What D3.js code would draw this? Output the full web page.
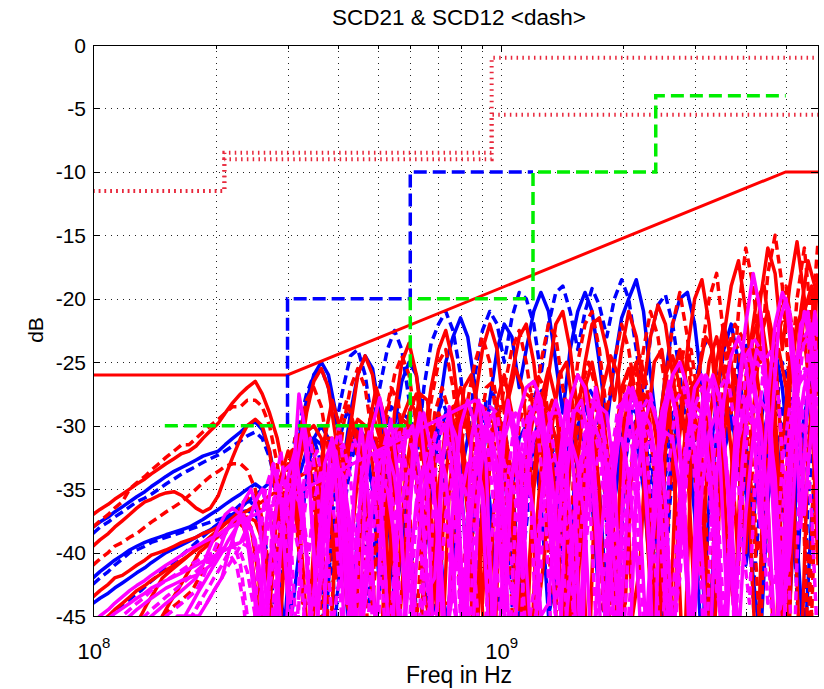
<!DOCTYPE html>
<html>
<head>
	<meta charset="utf-8">
	<title>SCD21 & SCD12</title>
	<style>
		body { margin: 0; background: #fff; }
		text { font-family: "Liberation Sans", Arial, Helvetica, sans-serif; fill: #000; }
	</style>
</head>
<body>
<script src="https://d3js.org/d3.v7.min.js"></script>
<script>
// sample frequencies (MHz)
var freqMHz = [100,104,109,113,118,123,128,134,139,145,
	151,158,165,172,179,186,194,203,211,220,
	230,239,250,260,271,283,295,307,320,334,
	348,363,378,394,411,428,446,465,485,505,
	527,549,572,596,621,648,675,704,733,764,
	797,830,865,902,940,980,1020,1065,1110,1155,
	1205,1255,1310,1365,1420,1480,1545,1610,1675,1745,
	1820,1900,1980,2060,2150,2240,2330,2430,2535,2640,
	2750,2870,2990,3115,3245,3385,3525,3675,3830,3990,
	4160,4335,4520,4710,4905,5115,5330,5555,5790,6000];
// second sweep, sampled in between
var freqMHzB = [102,106,111,115,120,125,131,136,142,148,
	154,161,168,175,182,190,198,207,215,225,
	234,244,255,265,277,289,301,313,327,341,
	355,370,386,402,419,437,455,475,495,516,
	538,560,584,608,634,661,689,718,748,780,
	813,847,883,921,960,1000,1042,1087,1132,1180,
	1230,1282,1337,1392,1450,1512,1577,1642,1710,1782,
	1860,1940,2020,2105,2195,2285,2380,2482,2587,2695,
	2810,2930,3052,3180,3315,3455,3600,3752,3910,4075,
	4247,4427,4615,4807,5010,5222,5442,5672,5895,6000];

// measured curves (dB), sweep A
var red1 = [-37,-36.6,-36.2,-35.8,-35.4,-35,-34.6,-34.2,-33.8,-33.4,
	-33,-32.6,-32.2,-32,-31.6,-31,-30.4,-29.8,-29,-28.2,
	-27.5,-27,-26.5,-27.5,-29,-31,-34,-38,-33,-29,
	-26.5,-25.5,-27,-31,-36,-30,-26,-24.5,-26,-30,
	-36,-29,-25,-23.5,-26,-31,-27,-24,-22.5,-25,
	-30,-35,-28,-24,-22,-24,-29,-26,-23,-22,
	-25,-30,-26,-22,-21,-24,-29,-25,-22,-21.5,
	-24,-28,-24,-21,-23,-27,-23,-20.5,-22,-26,
	-30,-24,-20,-18.5,-22,-28,-23,-19,-17,-21,
	-27,-20,-16,-18,-24,-19,-15.5,-20,-26,-18];
var red2 = [-38,-37.5,-37,-36.5,-36,-35,-34.5,-34,-33.5,-33,
	-32.5,-32,-31.5,-31.5,-31,-30.5,-30,-29.5,-29,-28.5,
	-28.5,-28,-28,-28.5,-30,-33,-37,-35,-31,-28,
	-27,-28.5,-32,-35,-30,-27,-25.5,-27,-31,-34,
	-29,-26,-24.5,-26,-30,-34,-28,-25,-24,-27,
	-32,-28,-25,-23,-25,-30,-27,-24,-22.5,-25,
	-29,-25,-22,-23,-27,-30,-25,-22,-21,-24,
	-29,-25,-22,-24,-28,-24,-21,-23,-27,-22,
	-19.5,-23,-29,-24,-20,-18,-23,-29,-21,-16,
	-19,-25,-18,-15,-19,-27,-20,-16,-22,-15.5];
var red3 = [-43.5,-43,-42.5,-42,-41.8,-41.4,-41,-40.6,-40.2,-40,
	-39.8,-39.5,-39.2,-39,-38.8,-38.5,-38.3,-38,-37.7,-37.4,
	-37,-36.7,-36.3,-36,-35.5,-35.2,-34.8,-34.5,-34,-33.7,
	-33.3,-33,-32.5,-33,-36,-40,-34,-31,-29,-31,
	-36,-42,-33,-29,-27.5,-30,-37,-45,-34,-29,
	-27,-29,-35,-44,-33,-28,-26,-29,-36,-48,
	-34,-28,-25.5,-28,-35,-46,-33,-27,-25,-28,
	-34,-44,-32,-27,-25,-29,-37,-50,-31,-26,
	-24,-27,-33,-42,-30,-25,-22,-25,-31,-40,
	-29,-23,-21,-24,-33,-45,-27,-21,-19,-26];
var red4 = [-39.5,-39,-38.5,-38,-37.5,-37,-36.5,-36,-35.8,-35.5,
	-35.3,-35.2,-35.5,-36,-36.5,-36.8,-36.5,-35.5,-34,-32.5,
	-31,-30,-29.5,-30,-32,-36,-42,-38,-33,-30.5,
	-30,-31,-35,-42,-35,-31,-29.5,-30,-33,-39,
	-45,-34,-29.5,-28,-29,-33,-41,-35,-30,-28.5,
	-30,-35,-47,-36,-31,-29,-31,-37,-50,-33,
	-29,-27.5,-30,-36,-45,-32,-28,-26.5,-29,-35,
	-48,-32,-27,-25.5,-28,-34,-43,-31,-26,-24.5,
	-27,-33,-44,-30,-25,-23,-26,-32,-41,-28,
	-23,-21,-25,-32,-47,-27,-22,-20.5,-24,-33];
var red5 = [-41,-40.5,-40,-39.5,-39.2,-38.8,-38.5,-38,-37.6,-37.2,
	-36.8,-36.4,-36,-35.5,-35,-34.5,-34,-33.6,-33.2,-33,
	-33,-33.5,-35,-38,-43,-40,-35,-32,-31,-32,
	-35,-41,-50,-38,-33,-31,-32,-36,-44,-37,
	-32,-30,-31.5,-36,-46,-36,-31,-29,-30.5,-35,
	-44,-37,-31,-28.5,-29,-33,-42,-37,-30,-27.5,
	-28,-32,-40,-45,-33,-28,-26,-27,-31,-38,
	-50,-34,-28,-25.5,-26,-30,-37,-46,-32,-27,
	-24.5,-25,-29,-36,-48,-31,-26,-23,-24,-29,
	-37,-47,-30,-24,-21.5,-22,-27,-36,-45,-29];
var red6 = [-46,-45.5,-45,-44.5,-44,-43.5,-43,-42.6,-42.2,-41.8,
	-41.4,-41,-40.6,-40.2,-39.8,-39.4,-39,-38.6,-38.2,-37.8,
	-37.5,-37.2,-37.5,-39,-43,-50,-40,-34,-31,-30,
	-32,-37,-50,-39,-33,-30,-30.5,-34,-42,-50,
	-37,-32,-29.5,-30,-34,-43,-46,-35,-31,-29.5,
	-31,-37,-50,-38,-32,-29.5,-30,-34,-44,-45,
	-35,-30.5,-29,-31,-37,-50,-38,-31,-28.5,-29,
	-33,-42,-50,-36,-30,-27.5,-28,-32,-41,-48,
	-35,-29,-26.5,-27,-31,-39,-50,-34,-27,-24,
	-24,-28,-36,-50,-32,-25,-22,-23,-29,-41];

var blue1 = [-38,-37.6,-37.2,-36.8,-36.4,-36,-35.6,-35.2,-34.8,-34.4,
	-34,-33.6,-33.3,-33,-32.7,-32.4,-32.2,-32,-31.5,-31,
	-30.5,-30,-29.7,-30.3,-32,-35,-40,-36,-31,-28,
	-26,-25,-26,-29,-33,-29,-26,-24.5,-25.5,-29,
	-35,-30,-26.5,-25,-26,-30,-36,-29,-25,-23,
	-21.5,-23,-27,-33,-28,-24,-22,-23,-27,-24,
	-21,-19.5,-21,-25,-29,-24,-21,-19.5,-21,-25,
	-30,-25,-21.5,-20,-18.5,-21,-26,-31,-26,-22,
	-20,-19.5,-22,-27,-33,-28,-24,-22,-25,-31,
	-38,-30,-26,-24,-27,-33,-42,-31,-26,-24];
var blue2 = [-38.5,-38,-37.6,-37.2,-36.8,-36.4,-36,-35.7,-35.4,-35,
	-34.6,-34.2,-33.8,-33.5,-33.2,-32.9,-32.6,-32.3,-32,-31.6,
	-31.2,-30.8,-30.5,-31,-32.5,-35,-38,-34,-30,-27.5,
	-26,-25.5,-27,-30,-27,-24.5,-24,-26,-30,-27,
	-24,-22.5,-24,-28,-33,-27,-23.5,-22,-21,-22.5,
	-26,-31,-26,-22.5,-21,-22,-25,-21.5,-19.5,-20,
	-22,-26,-22,-19.5,-19,-21,-24,-21,-19.2,-20.5,
	-23,-20,-18.5,-20,-24,-28,-23,-20.5,-19.7,-22,
	-26,-31,-27,-24,-23,-26,-32,-29,-25,-23.5,
	-26,-31,-36,-29,-25,-27,-33,-29,-26,-28];
var blue3 = [-42,-41.5,-41,-40.6,-40.2,-39.8,-39.5,-39.2,-39,-38.8,
	-38.6,-38.4,-38.2,-38,-37.7,-37.4,-37,-36.6,-36.2,-35.8,
	-35.4,-35,-34.6,-35,-37,-41,-46,-38,-34,-32,
	-31,-31.5,-34,-39,-36,-32,-30,-31,-35,-43,
	-38,-32,-29.5,-30,-34,-41,-35,-31,-29,-30,
	-34,-42,-36,-31,-28.5,-29,-33,-40,-47,-35,
	-31,-29,-30,-34,-40,-33,-30,-28.5,-30,-35,
	-44,-36,-31,-28.5,-29,-33,-41,-38,-32,-29,
	-28.5,-31,-37,-48,-36,-31,-28,-29,-33,-41,
	-37,-32,-29,-30,-35,-44,-34,-29,-27,-30];
var blue4 = [-42.5,-42,-41.5,-41,-40.5,-40,-39.8,-39.5,-39.2,-39,
	-38.8,-38.6,-38.4,-38.2,-38,-37.8,-37.6,-37.4,-37.2,-37,
	-36.8,-36.7,-37,-38,-41,-46,-40,-35,-32.5,-31,
	-31,-33,-37,-45,-37,-33,-31,-32,-35,-40,
	-35,-31,-29,-29.5,-32,-38,-50,-37,-32,-30,
	-31,-35,-43,-36,-31,-29,-30,-34,-42,-38,
	-32,-29.5,-29,-31,-36,-47,-37,-32,-30,-31,
	-35,-43,-35,-31,-29.5,-30,-34,-40,-34,-30,
	-28.5,-29,-32,-38,-47,-35,-31,-29,-30,-35,
	-43,-36,-31,-29,-30,-34,-40,-33,-29,-28];
var blue5 = [-44,-43.6,-43.2,-42.8,-42.4,-42,-41.6,-41.2,-40.8,-40.4,
	-40,-39.7,-39.4,-39.1,-38.8,-38.5,-38.2,-37.8,-37.4,-37,
	-36.5,-36,-35.5,-35,-34.5,-35,-38,-45,-40,-34,
	-31,-30,-31,-34,-40,-48,-38,-33,-31,-32,
	-36,-44,-40,-34,-31,-30,-32,-37,-46,-41,
	-34,-31,-30,-32,-36,-44,-43,-35,-31,-30,
	-31.5,-36,-45,-42,-35,-31,-30,-31.5,-36,-44,
	-45,-36,-31.5,-30,-31,-35,-42,-48,-37,-32,
	-30,-30.5,-34,-41,-50,-37,-32,-30,-31,-35,
	-42,-47,-36,-31.5,-30.5,-33,-39,-48,-37,-32];

var mag1 = [-45.5,-45,-44.5,-44,-43.5,-43,-42.6,-42.2,-41.8,-41.4,
	-41,-40.6,-40.2,-39.8,-39.5,-39.2,-38.9,-38.6,-38.2,-37.9,
	-37.6,-37.3,-37,-36.7,-36.4,-36.1,-35.8,-35.5,-35.2,-34.9,
	-34.6,-34.3,-34,-33.7,-33.4,-33.1,-32.8,-32.5,-32.2,-31.9,
	-31.6,-31.3,-31,-30.7,-30.4,-30.1,-29.8,-29.5,-29.2,-28.9,
	-28.6,-28.3,-28,-28.5,-31,-36,-45,-34,-29,-27,
	-26.5,-28,-33,-42,-33,-28,-26,-27,-31,-39,
	-47,-34,-29,-27,-28.5,-33,-41,-35,-29,-26,
	-25,-27,-32,-40,-50,-34,-28,-24.5,-23,-25,
	-30,-38,-28,-22,-19.5,-21,-27,-37,-30,-24];
var mag2 = [-46,-45.5,-45.2,-44.8,-44.4,-44,-43.6,-43.2,-42.8,-42.5,
	-42.2,-41.9,-41.6,-41.3,-41,-40.7,-40.4,-40.1,-39.8,-39.5,
	-39.2,-38,-36,-35,-37,-42,-50,-36,-27.5,-31,
	-40,-50,-38,-32,-36,-45,-50,-35,-30,-27.8,
	-31,-40,-50,-37,-31,-29,-32,-40,-50,-36,
	-30,-28,-30,-36,-48,-38,-31,-29,-32,-41,
	-50,-36,-30,-28,-30,-37,-49,-38,-31,-28.5,
	-29,-34,-45,-50,-35,-30,-28,-30,-36,-47,
	-40,-31,-27,-26,-29,-36,-49,-36,-27,-22,
	-18,-21,-28,-40,-50,-33,-25,-21,-24,-34];
var mag3 = [-47,-46.5,-46,-45.5,-45,-44.5,-44,-43.5,-43,-42.6,
	-42.2,-41.8,-41.4,-41,-40.7,-40.4,-40.1,-39.8,-39.6,-39.4,
	-39.2,-39.5,-40.5,-43,-48,-40,-36,-34,-35,-39,
	-48,-42,-35,-32,-31.5,-34,-42,-50,-39,-33,
	-30.5,-30,-33,-41,-50,-38,-32,-29.5,-30,-34,
	-42,-50,-37,-31,-28.5,-29,-33,-41,-50,-36,
	-31,-28.5,-29,-33,-40,-50,-37,-31,-28,-28.5,
	-32,-39,-50,-39,-32,-28.5,-27.5,-30,-36,-46,
	-42,-33,-28.5,-27,-29,-35,-45,-39,-31,-26,
	-23,-24,-29,-38,-50,-36,-28,-23,-22,-27];
var mag4 = [-48,-47,-46.5,-46,-45.5,-45,-44.5,-44,-43.6,-43.2,
	-42.8,-42.5,-42.2,-42,-41.8,-41.5,-41,-40,-38.5,-37.5,
	-37,-37.5,-39,-43,-50,-42,-37,-35,-36,-40,
	-50,-41,-35,-33,-34,-38,-48,-44,-36,-33,
	-32,-34,-39,-50,-41,-35,-32,-31.5,-34,-41,
	-50,-40,-34,-31,-30.5,-33,-39,-50,-41,-34,
	-31,-30,-32,-37,-48,-42,-35,-31,-29.5,-31,
	-36,-46,-44,-35,-31,-29,-30,-34,-42,-50,
	-36,-31,-28.5,-29,-33,-40,-50,-38,-31,-28,
	-27,-30,-36,-47,-41,-32,-27,-26,-29,-36];
var mag5 = [-49,-48,-47.5,-47,-46.5,-46,-45.5,-45,-44.5,-44,
	-43.5,-43,-42.5,-42,-41.5,-41,-40.5,-40,-39.7,-39.5,
	-40,-41.5,-45,-50,-43,-38,-36.5,-37,-40,-47,
	-44,-37,-34,-33.5,-36,-42,-50,-40,-34.5,-32,
	-33,-37,-46,-46,-37,-33,-31,-32,-36,-44,
	-47,-37,-32.5,-30.5,-31,-35,-43,-48,-38,-33,
	-30.5,-30,-32.5,-38,-50,-40,-34,-30.5,-30,-32,
	-38,-49,-41,-34,-30.5,-29.5,-31,-36,-45,-44,
	-35,-30.5,-29,-30,-34,-41,-50,-37,-31,-28,
	-28.5,-32,-39,-50,-37,-30,-26.5,-25.5,-28,-35];
var mag6 = [-50,-49,-48,-47.5,-47,-46.5,-46,-45.5,-45,-44.5,
	-44,-43.5,-43,-42.5,-42,-41,-39.5,-38,-37,-36.5,
	-37,-39,-44,-50,-41,-36,-33.5,-33,-35,-40,
	-50,-40,-35,-33,-34,-39,-50,-42,-36,-34,
	-35,-39,-48,-42,-36,-33.5,-34,-38,-47,-43,
	-36,-33,-32.5,-35,-41,-50,-39,-34,-32,-33,
	-37,-45,-44,-36,-32,-31,-33,-38,-49,-40,
	-34,-31.5,-31,-34,-40,-50,-40,-33,-30.5,-31,
	-35,-43,-45,-35,-30.5,-29,-31,-37,-47,-37,
	-31,-28,-29,-34,-44,-40,-31,-27,-26,-30];
var mag7 = [-50,-50,-49,-48.5,-48,-47.5,-47,-46.5,-46,-45.5,
	-45,-44.5,-44,-43.5,-43,-42,-40.5,-39,-38.5,-39,
	-41,-45,-50,-42,-37,-35,-36,-40,-50,-42,
	-36,-33.5,-34,-38,-47,-44,-37,-34,-34.5,-39,
	-49,-41,-36,-33.5,-34,-38,-46,-44,-37,-34,
	-33.5,-36,-42,-50,-40,-35,-33,-34,-38,-47,
	-43,-36,-33,-32.5,-35,-41,-50,-40,-34.5,-32,
	-33,-37,-46,-45,-36,-32,-31,-33.5,-39,-50,
	-40,-33,-30,-30.5,-35,-43,-46,-36,-31,-29,
	-30,-35,-44,-42,-33,-28.5,-27.5,-30,-37,-48];

// measured curves (dB), sweep B
var red7 = [-50,-50,-49,-48,-47,-46,-45,-44,-43,-42,
	-41.5,-41,-40.5,-40,-39.5,-39,-38.5,-38,-37.5,-37,
	-37,-38,-42,-50,-40,-34,-32,-34,-41,-50,
	-38,-31,-28,-30,-37,-50,-36,-30,-27,-29,
	-35,-47,-39,-31,-27.5,-28,-33,-44,-44,-32,
	-27,-26,-29,-37,-50,-35,-28,-25.5,-27,-33,
	-45,-40,-30,-26,-25,-29,-38,-50,-33,-27,
	-24.5,-26,-32,-45,-41,-30,-25,-24,-28,-37,
	-50,-33,-26,-23,-24,-29,-40,-45,-30,-24,
	-20,-19,-24,-34,-50,-30,-21,-17,-19,-27];
var red8 = [-50,-50,-50,-49,-48,-47,-46.5,-46,-45.5,-45,
	-44.5,-44,-43.5,-43,-42,-41,-40,-39,-38,-37,
	-36,-35.5,-36,-39,-46,-42,-35,-31,-30,-33,
	-40,-50,-36,-30,-28,-30,-36,-48,-38,-30,
	-27,-28,-33,-42,-48,-35,-29,-27,-29,-35,
	-46,-40,-31,-27,-26.5,-30,-38,-50,-34,-28,
	-26,-27,-32,-42,-47,-33,-27,-25,-27,-33,
	-44,-42,-31,-26,-24.5,-27,-34,-48,-36,-28,
	-24,-24,-28,-37,-50,-33,-26,-22,-23,-29,
	-40,-38,-27,-21,-19,-23,-31,-47,-31,-22];
var red9 = [-50,-50,-50,-50,-50,-49,-48,-47,-46,-45,
	-44,-43,-42,-41,-40,-39.5,-39,-38.5,-38,-37.5,
	-38,-40,-45,-50,-38,-34,-33,-36,-44,-44,
	-35,-31,-31,-35,-44,-46,-35,-31,-31,-35,
	-45,-42,-34,-30,-30,-34,-43,-48,-35,-30,
	-29,-32,-39,-50,-37,-31,-29,-31,-38,-50,
	-37,-30,-28,-30,-36,-48,-38,-30,-28,-29,
	-34,-45,-44,-32,-27.5,-28,-33,-43,-48,-33,
	-28,-27,-31,-40,-50,-34,-28,-26,-29,-37,
	-50,-33,-26,-24,-27,-35,-50,-32,-25,-24];
var blue6 = [-46,-45.5,-45,-44.5,-44,-43.5,-43,-42.5,-42,-41.5,
	-41,-40.5,-40,-39.5,-39,-38.5,-38,-37.5,-37,-36.5,
	-36,-36,-37,-40,-46,-40,-34,-31,-30,-32,
	-37,-47,-38,-31,-29,-30,-35,-44,-38,-31,
	-28.5,-29,-33,-41,-48,-35,-30,-28,-29.5,-35,
	-45,-40,-32,-28,-27.5,-30,-37,-50,-36,-29,
	-27,-27.5,-31,-39,-50,-35,-29,-27,-28,-33,
	-43,-44,-33,-28,-27,-29,-35,-48,-37,-30,
	-27.5,-28,-33,-43,-46,-33,-28,-27,-30,-37,
	-50,-36,-30,-28,-30,-37,-50,-36,-30,-29];
var mag8 = [-50,-50,-50,-49,-49,-48,-48,-47,-47,-46,
	-46,-45,-45,-44,-43,-42,-41,-40,-39,-38,
	-37,-40,-46,-38,-33,-36,-44,-34,-30,-35,
	-45,-36,-31,-38,-50,-35,-30,-36,-47,-33,
	-29.5,-34,-44,-32,-29,-35,-50,-33,-28.5,-34,
	-45,-31,-28,-33,-48,-32,-28,-32,-42,-30,
	-27.5,-31,-40,-33,-28,-34,-50,-31,-27,-30,
	-38,-44,-31,-27,-29,-36,-50,-30,-26.5,-29,
	-35,-47,-31,-26,-27,-33,-45,-32,-25,-24,
	-28,-40,-30,-22,-20,-26,-38,-27,-21,-23];
var mag9 = [-50,-50,-50,-50,-49,-49,-48,-48,-47,-47,
	-46,-46,-45,-45,-44,-44,-43,-42,-41,-40,
	-39,-38,-41,-48,-36,-32,-37,-50,-35,-31,
	-35,-43,-33,-30,-36,-50,-34,-31,-33,-40,
	-48,-33,-30,-32,-39,-47,-34,-30,-31,-37,
	-50,-35,-30,-30.5,-36,-46,-34,-29,-29.5,-35,
	-48,-34,-29,-29,-33,-44,-38,-30,-28,-31,
	-41,-46,-33,-28.5,-28,-32,-40,-49,-33,-28,
	-27,-30,-38,-50,-33,-27,-26,-30,-39,-44,
	-31,-25,-24,-28,-37,-50,-31,-24,-22,-30];
var mag10 = [-50,-50,-50,-50,-50,-49,-49,-48,-48,-47,
	-47,-46,-46,-45,-45,-44,-43,-42,-40,-38,
	-36,-35,-37,-43,-50,-39,-34,-32,-36,-45,
	-41,-33,-31,-34,-44,-44,-34,-30.5,-32,-39,
	-50,-36,-31,-30,-34,-43,-42,-33,-29.5,-31,
	-38,-50,-35,-30,-29,-33,-42,-44,-33,-29,
	-28.5,-32,-41,-49,-34,-29,-28,-31,-38,-50,
	-35,-29.5,-27.5,-30,-37,-48,-35,-29,-27,-29,
	-36,-50,-34,-28,-26,-28,-35,-46,-33,-27,
	-24,-25,-31,-44,-40,-28,-22,-21,-27,-39];
var mag11 = [-50,-50,-50,-50,-50,-50,-50,-49,-49,-48,
	-48,-47,-46,-45,-44,-43,-42,-41,-40,-41,
	-44,-50,-40,-35,-33,-35,-41,-50,-38,-33,
	-32,-36,-46,-42,-34,-31,-33,-41,-50,-36,
	-31,-30,-33,-42,-49,-36,-31,-29.5,-32,-40,
	-50,-37,-31,-29,-31,-38,-50,-37,-31,-28.5,
	-30,-36,-48,-40,-32,-28.5,-29,-34,-45,-43,
	-33,-28.5,-28,-32,-41,-50,-35,-29,-27,-29,
	-35,-48,-38,-29,-26.5,-28,-34,-47,-36,-28,
	-25,-26,-32,-45,-42,-30,-24,-23,-27,-38];

// limit masks: [MHz, dB]
var limitRed = [[100,-26],[300,-26],[5000,-10],[6000,-10]];
var limitBlue = [[300,-30],[300,-20],[600,-20],[600,-10],[1200,-10]];
var limitGreen = [[150,-30],[600,-30],[600,-20],[1200,-20],[1200,-10],[2400,-10],[2400,-4],[5000,-4]];
var limitDotA = [[100,-11.5],[210,-11.5],[210,-8.5],[950,-8.5],[950,-1],[6000,-1]];
var limitDotB = [[100,-11.5],[210,-11.5],[210,-9],[950,-9],[950,-5.5],[6000,-5.5]];

var yTicks = [0,-5,-10,-15,-20,-25,-30,-35,-40,-45];
var xMajor = [1e8,1e9];
var xMinor = [2e8,3e8,4e8,5e8,6e8,7e8,8e8,9e8,2e9,3e9,4e9,5e9];

var W = 824, H = 689;
var pL = 93, pR = 818, pT = 45, pB = 616;

var svg = d3.select('body').append('svg')
	.attr('width', W)
	.attr('height', H);

var x = d3.scaleLog().domain([1e8, 6e9]).range([pL, pR]);
var y = d3.scaleLinear().domain([-45, 0]).range([pB, pT]);

svg.append('defs').append('clipPath').attr('id', 'plot')
	.append('rect')
	.attr('x', pL).attr('y', pT)
	.attr('width', pR - pL).attr('height', pB - pT);

// grid
var grid = svg.append('g')
	.attr('stroke', '#222')
	.attr('stroke-width', 1)
	.attr('stroke-dasharray', '1,5');
grid.selectAll('.gx')
	.data(xMinor.concat([1e9]))
	.enter().append('line')
	.attr('x1', function(d) { return Math.round(x(d)) + 0.5; })
	.attr('x2', function(d) { return Math.round(x(d)) + 0.5; })
	.attr('y1', pT).attr('y2', pB);
grid.selectAll('.gy')
	.data(yTicks.slice(1, -1))
	.enter().append('line')
	.attr('y1', function(d) { return Math.round(y(d)) + 0.5; })
	.attr('y2', function(d) { return Math.round(y(d)) + 0.5; })
	.attr('x1', pL).attr('x2', pR);

var A = freqMHz, B = freqMHzB;
var series = [
	{f: A, v: blue1, c: '#0000ff', dash: false},
	{f: A, v: blue2, c: '#0000ff', dash: true},
	{f: A, v: blue3, c: '#0000ff', dash: false},
	{f: A, v: blue4, c: '#0000ff', dash: true},
	{f: A, v: blue5, c: '#0000ff', dash: false},
	{f: B, v: blue6, c: '#0000ff', dash: true},
	{f: A, v: red1, c: '#ff0000', dash: false},
	{f: A, v: red2, c: '#ff0000', dash: true},
	{f: A, v: red3, c: '#ff0000', dash: false},
	{f: A, v: red4, c: '#ff0000', dash: false},
	{f: A, v: red5, c: '#ff0000', dash: true},
	{f: A, v: red6, c: '#ff0000', dash: false},
	{f: B, v: red7, c: '#ff0000', dash: false},
	{f: B, v: red8, c: '#ff0000', dash: true},
	{f: B, v: red9, c: '#ff0000', dash: false},
	{f: A, v: mag1, c: '#ff00ff', dash: false},
	{f: A, v: mag2, c: '#ff00ff', dash: false},
	{f: A, v: mag3, c: '#ff00ff', dash: true},
	{f: A, v: mag4, c: '#ff00ff', dash: false},
	{f: A, v: mag5, c: '#ff00ff', dash: true},
	{f: A, v: mag6, c: '#ff00ff', dash: false},
	{f: A, v: mag7, c: '#ff00ff', dash: true},
	{f: B, v: mag8, c: '#ff00ff', dash: false},
	{f: B, v: mag9, c: '#ff00ff', dash: true},
	{f: B, v: mag10, c: '#ff00ff', dash: false},
	{f: B, v: mag11, c: '#ff00ff', dash: true}
];

var plot = svg.append('g').attr('clip-path', 'url(#plot)');

plot.selectAll('.curve')
	.data(series)
	.enter().append('path')
	.attr('class', 'curve')
	.attr('d', function(s) {
		return d3.line()
			.x(function(d, i) { return x(s.f[i] * 1e6); })
			.y(function(d) { return y(d); })(s.v);
	})
	.attr('fill', 'none')
	.attr('stroke', function(d) { return d.c; })
	.attr('stroke-width', 3.5)
	.attr('stroke-linejoin', 'round')
	.attr('stroke-dasharray', function(d) { return d.dash ? '9,5' : null; });

var mask = d3.line()
	.x(function(d) { return x(d[0] * 1e6); })
	.y(function(d) { return y(d[1]); });

var limits = [
	{v: limitDotA, c: '#e8283c', w: 4, dash: '1.5,4.3'},
	{v: limitDotB, c: '#e8283c', w: 4, dash: '1.5,4.3'},
	{v: limitRed, c: '#ff0000', w: 3, dash: null},
	{v: limitBlue, c: '#0000ff', w: 3.5, dash: '13,6'},
	{v: limitGreen, c: '#00ee00', w: 3.5, dash: '13,6'}
];

plot.selectAll('.limit')
	.data(limits)
	.enter().append('path')
	.attr('class', 'limit')
	.attr('d', function(d) { return mask(d.v); })
	.attr('fill', 'none')
	.attr('stroke', function(d) { return d.c; })
	.attr('stroke-width', function(d) { return d.w; })
	.attr('stroke-dasharray', function(d) { return d.dash; });

// box
svg.append('rect')
	.attr('x', pL + 0.5).attr('y', pT + 0.5)
	.attr('width', pR - pL).attr('height', pB - pT)
	.attr('fill', 'none')
	.attr('stroke', '#000')
	.attr('stroke-width', 1);

// ticks (inside, MATLAB style)
var ticks = svg.append('g').attr('stroke', '#000').attr('stroke-width', 1);
yTicks.forEach(function(t) {
	var yy = Math.round(y(t)) + 0.5;
	ticks.append('line').attr('x1', pL).attr('x2', pL + 7).attr('y1', yy).attr('y2', yy);
	ticks.append('line').attr('x1', pR - 7).attr('x2', pR).attr('y1', yy).attr('y2', yy);
});
xMajor.concat(xMinor).forEach(function(t) {
	var xx = Math.round(x(t)) + 0.5;
	var len = xMajor.indexOf(t) >= 0 ? 7 : 4;
	ticks.append('line').attr('x1', xx).attr('x2', xx).attr('y1', pB).attr('y2', pB - len);
	ticks.append('line').attr('x1', xx).attr('x2', xx).attr('y1', pT).attr('y2', pT + len);
});

// y tick labels
svg.append('g').selectAll('text')
	.data(yTicks)
	.enter().append('text')
	.attr('x', pL - 7)
	.attr('y', function(d) { return y(d) + 7.5; })
	.attr('text-anchor', 'end')
	.attr('font-size', 21)
	.text(function(d) { return d; });

// x tick labels with superscript exponent
var xl = svg.append('g').selectAll('text')
	.data(xMajor)
	.enter().append('text')
	.attr('x', function(d) { return x(d) + 1; })
	.attr('y', 659)
	.attr('text-anchor', 'middle')
	.attr('font-size', 22);
xl.append('tspan').text('10');
xl.append('tspan')
	.attr('dy', -11)
	.attr('font-size', 15)
	.text(function(d) { return Math.round(Math.log10(d)); });

svg.append('text')
	.attr('x', 459)
	.attr('y', 683)
	.attr('text-anchor', 'middle')
	.attr('font-size', 23)
	.text('Freq in Hz');

svg.append('text')
	.attr('transform', 'translate(43,' + 330 + ') rotate(-90)')
	.attr('text-anchor', 'middle')
	.attr('font-size', 21)
	.text('dB');

svg.append('text')
	.attr('x', 459)
	.attr('y', 25)
	.attr('text-anchor', 'middle')
	.attr('font-size', 22.5)
	.text('SCD21 & SCD12 <dash>');
</script>
</body>
</html>
